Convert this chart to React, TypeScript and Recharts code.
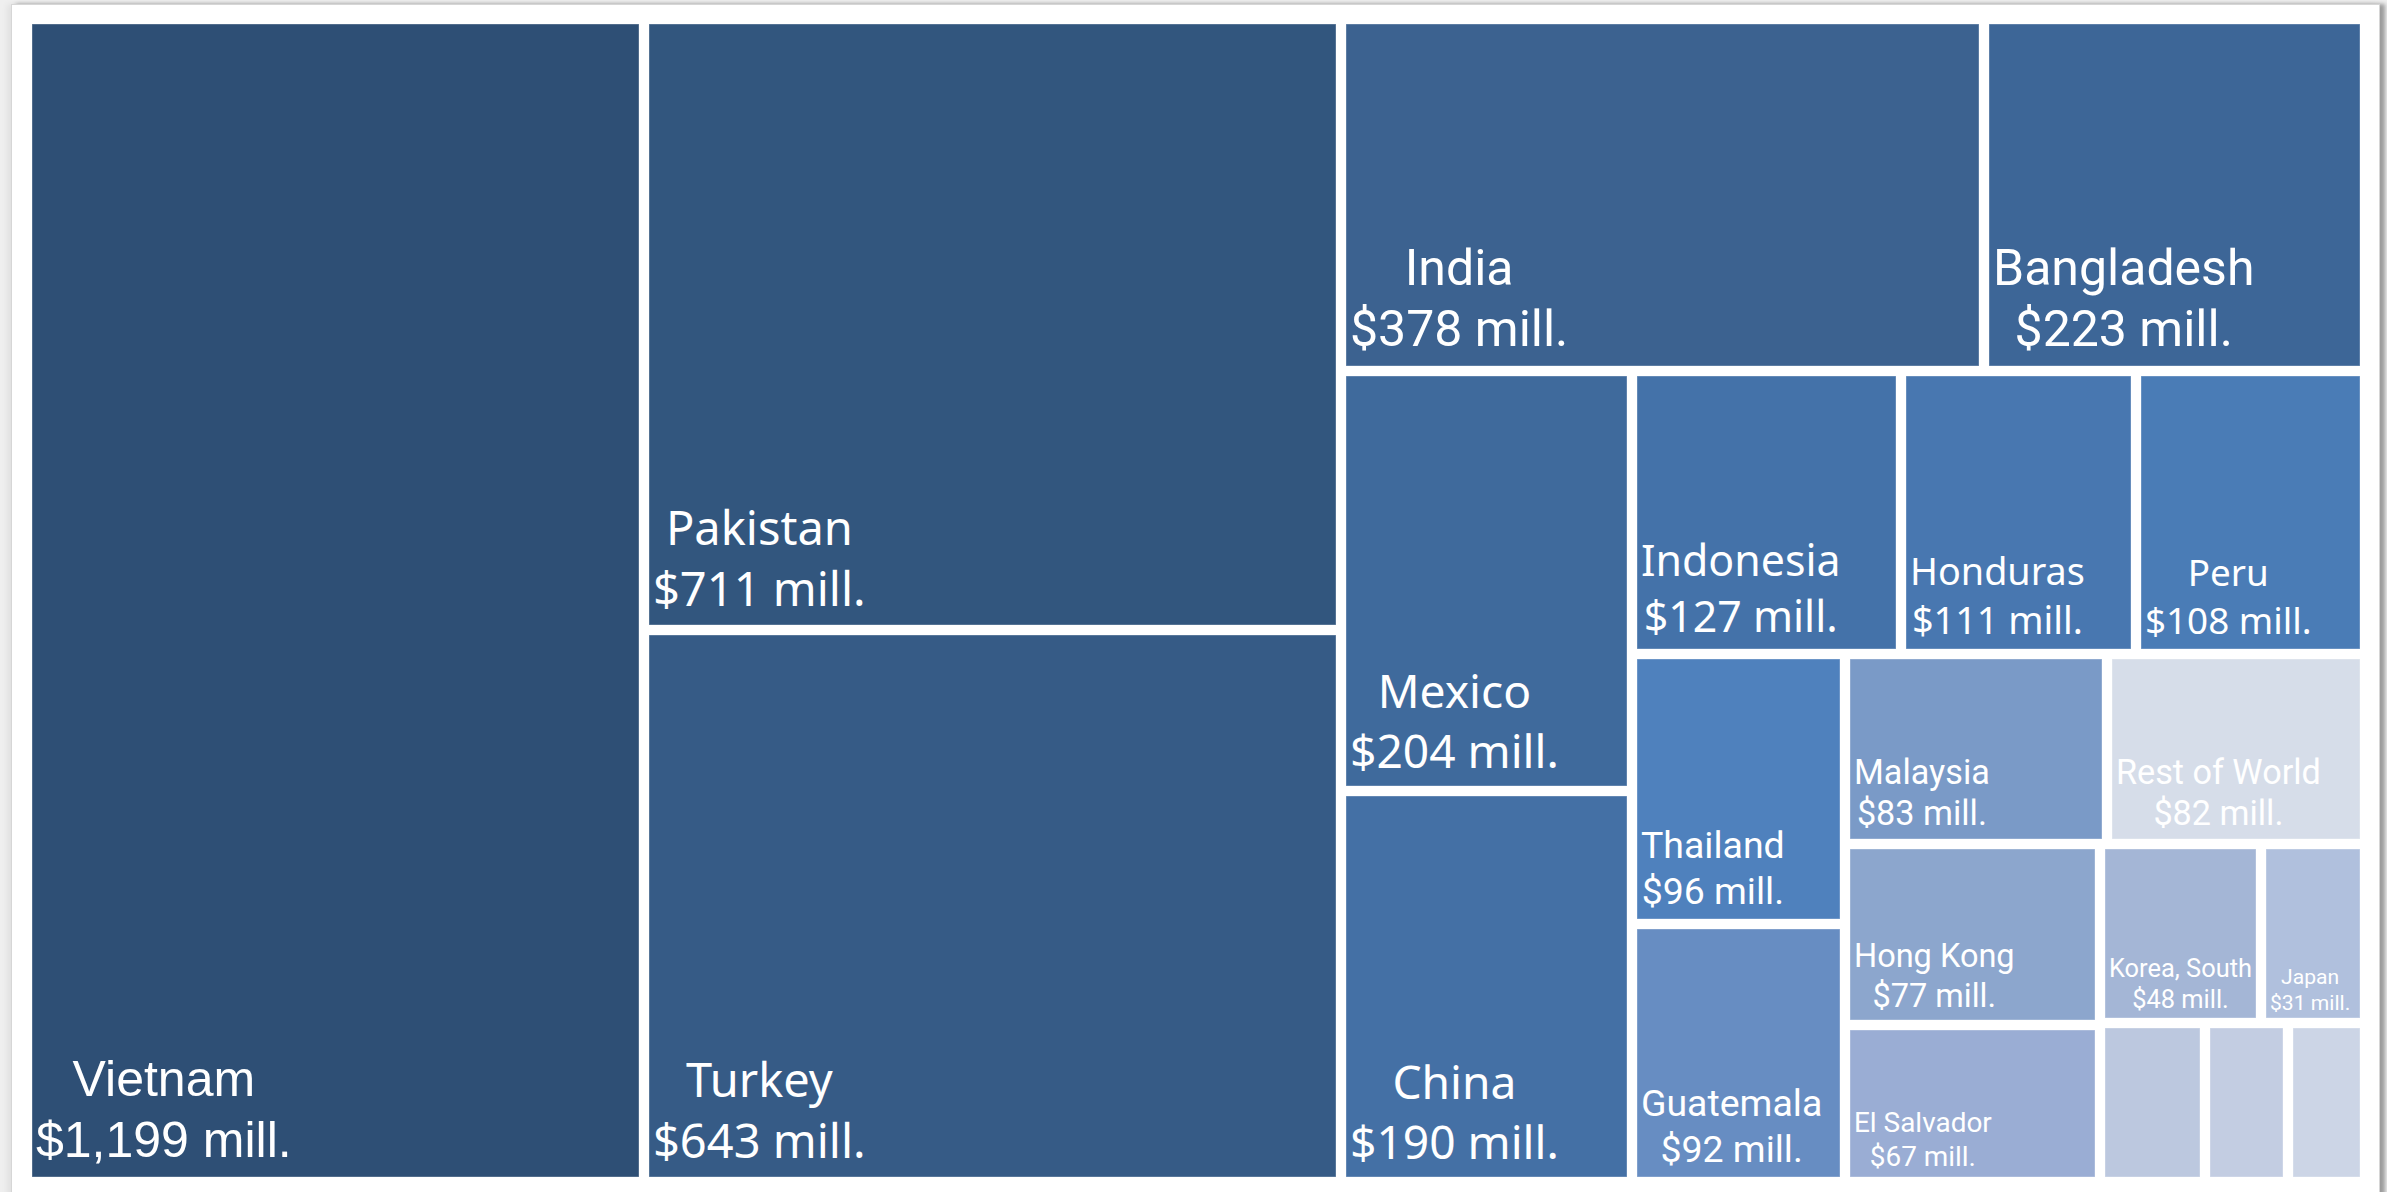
import React from 'react';
import { Treemap } from 'recharts';

// values in US$ millions, sorted the way the treemap lays them out
const COUNTRIES = [
  'Vietnam', 'Pakistan', 'Turkey', 'India', 'Bangladesh', 'Mexico', 'China',
  'Indonesia', 'Honduras', 'Peru', 'Thailand', 'Guatemala', 'Malaysia',
  'Rest of World', 'Hong Kong', 'El Salvador', 'Korea, South', 'Japan',
  '', '', '',
];
const VALUES = [
  1199, 711, 643, 378, 223, 204, 190,
  127, 111, 108, 96, 92, 83,
  82, 77, 67, 48, 31,
  28, 22, 20,
];

const COLORS = [
  '#2E4F75', '#32567E', '#365B86', '#3C6290', '#3D6697', '#3F6A9C', '#4470A5',
  '#4472A9', '#4877B0', '#4A7CB6', '#4F81BD', '#678DC2', '#7A9AC7',
  '#D6DDE9', '#8CA6CD', '#9AADD4', '#A4B6D6', '#B0C0DD',
  '#BCC8DF', '#C3CDE2', '#CCD5E6',
];

const ARIAL = '"Liberation Sans", Arial, sans-serif';
const SEGOE = '"Noto Sans", "Open Sans", sans-serif';
const NARROW = 'Roboto, "Noto Sans", sans-serif';
const LABEL_FONTS = [
  ARIAL, SEGOE, SEGOE, NARROW, NARROW, SEGOE, SEGOE,
  SEGOE, SEGOE, SEGOE, NARROW, NARROW, NARROW,
  NARROW, NARROW, NARROW, NARROW, NARROW,
  NARROW, NARROW, NARROW,
];

const data = COUNTRIES.map((name, i) => ({ name, size: VALUES[i] }));

const GAP = 10;
const PAD = 4;

let ctx: CanvasRenderingContext2D | null = null;
const measure = (text: string, font: string) => {
  if (!ctx) ctx = document.createElement('canvas').getContext('2d');
  if (!ctx) return text.length * 20;
  ctx.font = font;
  return ctx.measureText(text).width;
};

const labelSize = (family: string, rw: number, rh: number) => {
  if (family === SEGOE) return Math.min(47, 0.15 * rw + 4, 0.19 * rh);
  return Math.min(50, 0.15 * rw + 7, 0.19 * rh);
};

const CellContent = (props: any) => {
  const { x, y, width, height, depth, index, name, value } = props;
  if (depth !== 1) return null;

  const rx = x + GAP / 2;
  const ry = y + GAP / 2;
  const rw = Math.max(0, width - GAP);
  const rh = Math.max(0, height - GAP);
  const fill = COLORS[index % COLORS.length];

  let label = null;
  if (name) {
    const family = LABEL_FONTS[index];
    const valueText = `$${Number(value).toLocaleString('en-US')} mill.`;
    let fs = labelSize(family, rw, rh);
    let w = Math.max(measure(name, `${fs}px ${family}`), measure(valueText, `${fs}px ${family}`));
    const avail = rw - 2 * PAD;
    if (w > avail) {
      fs = (fs * avail) / w;
      w = avail;
    }
    const lineGap = family === SEGOE ? 1.3 : 1.22;
    const cx = rx + PAD + w / 2;
    const valueY = ry + rh - 0.4 * fs;
    const nameY = valueY - lineGap * fs;
    label = (
      <g fill="#ffffff" fontFamily={family} fontSize={fs} textAnchor="middle">
        <text x={cx} y={nameY}>{name}</text>
        <text x={cx} y={valueY}>{valueText}</text>
      </g>
    );
  }

  return (
    <g>
      <rect x={rx} y={ry} width={rw} height={rh} fill={fill} stroke="rgba(255,255,255,0.35)" strokeWidth={1} />
      {label}
    </g>
  );
};

export default function App() {
  return (
    <div style={{ position: 'fixed', left: 0, top: 0, width: 2387, height: 1192, background: '#efefef', overflow: 'hidden' }}>
      <div
        style={{
          position: 'absolute',
          left: 11,
          top: 4,
          width: 2367,
          height: 1250,
          background: '#ffffff',
          border: '1px solid #d6d6d6',
          boxShadow: '5px 0 4px rgba(0,0,0,0.35), -4px 0 6px rgba(0,0,0,0.06)',
        }}
      />
      <div style={{ position: 'absolute', left: 27, top: 19 }}>
        <Treemap
          width={2338}
          height={1163}
          data={data}
          dataKey="size"
          nameKey="name"
          aspectRatio={0.9}
          isAnimationActive={false}
          content={<CellContent />}
        />
      </div>
    </div>
  );
}
